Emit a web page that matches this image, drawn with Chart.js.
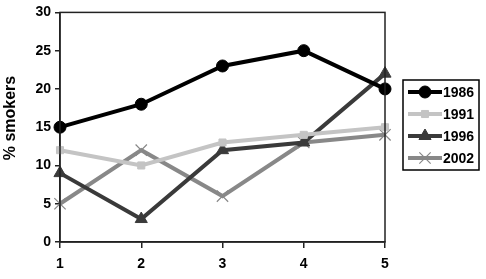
<!DOCTYPE html>
<html>
<head>
<meta charset="utf-8">
<script src="https://cdn.jsdelivr.net/npm/chart.js@4/dist/chart.umd.min.js"></script>
<style>
html,body{margin:0;padding:0;background:#fff;}
#wrap{width:486px;height:279px;position:relative;}
</style>
</head>
<body>
<div id="wrap"><canvas id="c" width="486" height="279"></canvas></div>
<script>
const categories = ['1', '2', '3', '4', '5'];
const s1986 = [15, 18, 23, 25, 20];
const s1991 = [12, 10, 13, 14, 15];
const s1996 = [9, 3, 12, 13, 22];
const s2002 = [5, 12, 6, 13, 14];
const yTicks = [0, 5, 10, 15, 20, 25, 30];
const yTitle = '% smokers';

const FONT = "'Liberation Sans', Arial, sans-serif";

const borderPlugin = {
  id: 'plotBorder',
  afterDraw(chart) {
    const ctx = chart.ctx, a = chart.chartArea;
    ctx.save();
    ctx.strokeStyle = '#222';
    ctx.lineWidth = 1.5;
    ctx.strokeRect(a.left, a.top, a.right - a.left, a.bottom - a.top);
    ctx.translate(11, 118);
    ctx.rotate(-Math.PI / 2);
    ctx.fillStyle = '#000';
    ctx.font = 'bold 16px ' + FONT;
    ctx.textAlign = 'center';
    ctx.textBaseline = 'middle';
    ctx.fillText(yTitle, 0, 0);
    ctx.restore();
  }
};

const legendPlugin = {
  id: 'boxLegend',
  afterDraw(chart) {
    const ctx = chart.ctx;
    const x0 = 403, y0 = 80, w = 76, h = 90;
    ctx.save();
    ctx.fillStyle = '#fff';
    ctx.fillRect(x0, y0, w, h);
    ctx.strokeStyle = '#000';
    ctx.lineWidth = 1.5;
    ctx.strokeRect(x0, y0, w, h);
    chart.data.datasets.forEach((ds, i) => {
      const y = y0 + 12 + i * 22;
      ctx.strokeStyle = ds.borderColor;
      ctx.lineWidth = ds.borderWidth;
      ctx.beginPath();
      ctx.moveTo(x0 + 5, y);
      ctx.lineTo(x0 + 39, y);
      ctx.stroke();
      ctx.fillStyle = ds.pointBackgroundColor;
      ctx.strokeStyle = ds.pointBorderColor;
      ctx.lineWidth = ds.pointBorderWidth || 1;
      Chart.helpers.drawPoint(ctx, {
        pointStyle: ds.pointStyle,
        radius: ds.pointRadius,
        borderWidth: ds.pointBorderWidth || 1
      }, x0 + 22, y);
      ctx.fillStyle = '#000';
      ctx.font = 'bold 14px ' + FONT;
      ctx.textBaseline = 'middle';
      ctx.textAlign = 'left';
      ctx.fillText(ds.label, x0 + 40, y + 1);
    });
    ctx.restore();
  }
};

function ds(label, data, color, style, radius, bw, pbw) {
  return {
    label, data,
    borderColor: color, backgroundColor: color,
    pointBackgroundColor: color, pointBorderColor: color,
    pointStyle: style, pointRadius: radius, pointHoverRadius: radius,
    borderWidth: bw, pointBorderWidth: pbw,
    tension: 0, clip: false
  };
}

new Chart(document.getElementById('c'), {
  type: 'line',
  data: {
    labels: categories,
    datasets: [
      ds('1986', s1986, '#000000', 'circle', 6, 4, 1),
      ds('1991', s1991, '#c4c4c4', 'rect', 5, 4, 1),
      ds('1996', s1996, '#3a3a3a', 'triangle', 7, 4, 1),
      ds('2002', s2002, '#888888', 'crossRot', 8, 4, 1.2)
    ]
  },
  options: {
    responsive: false,
    animation: false,
    devicePixelRatio: 1,
    layout: { padding: { top: 8, right: 101, left: 0, bottom: 0 } },
    plugins: { legend: { display: false }, tooltip: { enabled: false } },
    scales: {
      x: {
        offset: false,
        grid: { drawOnChartArea: false, tickLength: 6, color: '#222', lineWidth: 1.5 },
        border: { color: '#222', width: 1.5 },
        ticks: { color: '#000', font: { family: FONT, size: 14, weight: 'bold' }, padding: 8, maxRotation: 0 },
        afterFit(scale) { scale.height = 37; }
      },
      y: {
        min: 0, max: 30,
        afterBuildTicks(scale) { scale.ticks = yTicks.map(v => ({ value: v })); },
        grid: { drawOnChartArea: false, tickLength: 5, color: '#222', lineWidth: 1.5 },
        border: { color: '#222', width: 1.5 },
        ticks: { color: '#000', font: { family: FONT, size: 14, weight: 'bold' }, padding: 4 },
        afterFit(scale) { scale.width = 60; }
      }
    }
  },
  plugins: [borderPlugin, legendPlugin]
});
</script>
</body>
</html>
